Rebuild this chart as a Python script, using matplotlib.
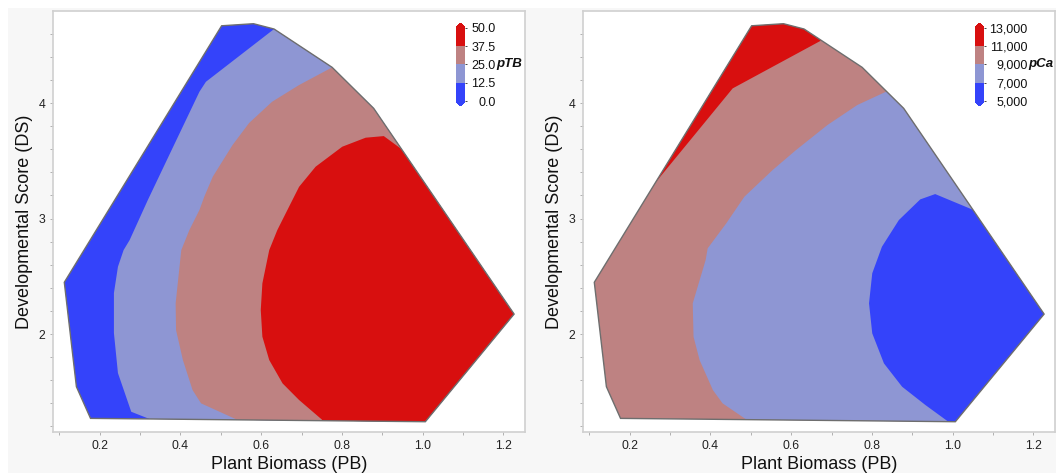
import matplotlib
matplotlib.use('Agg')
import matplotlib.pyplot as plt
from matplotlib.patches import Polygon, Rectangle
from matplotlib.colors import ListedColormap, BoundaryNorm
from matplotlib.cm import ScalarMappable
from matplotlib.ticker import FixedLocator

plt.rcParams['font.family'] = ['Liberation Sans', 'DejaVu Sans']

# convex hull of the sampled points (Plant Biomass, Developmental Score)
hull_pb = [0.112, 0.142, 0.177, 1.007, 1.227, 0.879, 0.776, 0.632, 0.581, 0.502]
hull_ds = [2.448, 1.544, 1.270, 1.241, 2.173, 3.954, 4.309, 4.641, 4.687, 4.669]

# pTB contour lines, from top edge to bottom edge
ptb_levels = [0.0, 12.5, 25.0, 37.5, 50.0]
ptb_12_pb = [0.632, 0.463, 0.447, 0.378, 0.319, 0.274, 0.259, 0.245, 0.235, 0.235, 0.245, 0.278, 0.323]
ptb_12_ds = [4.641, 4.184, 4.098, 3.593, 3.160, 2.814, 2.727, 2.583, 2.355, 2.009, 1.662, 1.327, 1.265]
ptb_25_pb = [0.776, 0.694, 0.627, 0.570, 0.529, 0.480, 0.459, 0.447, 0.422, 0.402, 0.388, 0.389,
             0.406, 0.430, 0.451, 0.538]
ptb_25_ds = [4.309, 4.156, 4.011, 3.827, 3.636, 3.362, 3.189, 3.074, 2.900, 2.727, 2.266, 2.035,
             1.775, 1.515, 1.400, 1.262]
ptb_37_pb = [0.957, 0.904, 0.859, 0.801, 0.735, 0.694, 0.665, 0.640, 0.620, 0.603, 0.599, 0.603,
             0.620, 0.653, 0.694, 0.751]
ptb_37_ds = [3.578, 3.714, 3.700, 3.622, 3.449, 3.275, 3.074, 2.900, 2.727, 2.439, 2.208, 1.977,
             1.775, 1.573, 1.429, 1.258]

# pCa contour lines
pca_levels = [5000, 7000, 9000, 11000, 13000]
pca_11_pb = [0.673, 0.455, 0.262]
pca_11_ds = [4.539, 4.127, 3.305]
pca_9_pb = [0.835, 0.764, 0.690, 0.612, 0.554, 0.484, 0.439, 0.393, 0.388, 0.356, 0.358, 0.373,
            0.406, 0.430, 0.488]
pca_9_ds = [4.098, 3.983, 3.810, 3.593, 3.420, 3.189, 2.958, 2.742, 2.641, 2.266, 1.977, 1.775,
            1.515, 1.400, 1.262]
pca_7_pb = [1.056, 0.957, 0.920, 0.867, 0.825, 0.801, 0.793, 0.801, 0.830, 0.875, 0.933, 0.990]
pca_7_ds = [3.068, 3.212, 3.166, 2.987, 2.756, 2.526, 2.266, 2.006, 1.746, 1.544, 1.385, 1.240]

# band colours, low -> high
band_colors = ['#3443fa', '#8e96d3', '#be8282', '#d80f0f']

W, H = 1056, 473


def band_patch(pb, ds, side, color):
    """Region beyond a contour line, closed outside the hull."""
    pts = list(zip(pb, ds))
    if side == 'right':
        pts += [(pb[-1], 0.0), (5.0, 0.0), (5.0, 9.0), (pb[0], 9.0)]
    else:  # region above the line
        pts += [(pb[-1], 9.0), (pb[0], 9.0)]
    return Polygon(pts, closed=True, facecolor=color, edgecolor='none', zorder=2,
                   joinstyle='round')


def style_axes(ax):
    ax.set_facecolor('white')
    ax.set_xlim(0.084, 1.254)
    ax.set_ylim(1.152, 4.797)
    ax.xaxis.set_major_locator(FixedLocator([0.2, 0.4, 0.6, 0.8, 1.0, 1.2]))
    ax.xaxis.set_minor_locator(FixedLocator([0.1, 0.3, 0.5, 0.7, 0.9, 1.1]))
    ax.yaxis.set_major_locator(FixedLocator([2, 3, 4]))
    ax.yaxis.set_minor_locator(FixedLocator([1.2, 1.4, 1.6, 1.8, 2.2, 2.4, 2.6, 2.8,
                                             3.2, 3.4, 3.6, 3.8, 4.2, 4.4, 4.6]))
    ax.tick_params(which='both', length=2.5, width=0.7, color='#b0b0b0',
                   labelsize=8.8, labelcolor='#222222', pad=3)
    for sp in ax.spines.values():
        sp.set_color('#d0d0d0')
        sp.set_linewidth(1.2)
    ax.set_xlabel('Plant Biomass (PB)', fontsize=13, color='#111111', labelpad=3)
    ax.set_ylabel('Developmental Score (DS)', fontsize=13, color='#111111', labelpad=4)


def draw_panel(ax, base_color, bands):
    hull = Polygon(list(zip(hull_pb, hull_ds)), closed=True, facecolor=base_color,
                   edgecolor='none', zorder=1)
    ax.add_patch(hull)
    for pb, ds, side, color in bands:
        p = band_patch(pb, ds, side, color)
        ax.add_patch(p)
        p.set_clip_path(hull)
    ax.add_patch(Polygon(list(zip(hull_pb, hull_ds)), closed=True, fill=False,
                         edgecolor='#6e6e6e', linewidth=1.0, zorder=5))
    style_axes(ax)


def add_colorbar(fig, left_px, levels, labels, name, pad):
    cmap = ListedColormap(band_colors)
    cmap.set_under(band_colors[0])
    cmap.set_over(band_colors[-1])
    norm = BoundaryNorm(levels, cmap.N)
    cax = fig.add_axes([left_px / W, 1 - 106 / H, 9 / W, 83 / H])
    cb = fig.colorbar(ScalarMappable(norm=norm, cmap=cmap), cax=cax, extend='both',
                      extendfrac=0.068, ticks=levels)
    cb.outline.set_visible(False)
    cb.ax.set_yticklabels(labels)
    cb.ax.tick_params(length=1.5, width=0.7, color='#444444', pad=pad,
                      labelsize=9, labelcolor='#111111')
    for t in cb.ax.get_yticklabels():
        t.set_ha('right')
    cb.ax.annotate(name, xy=(1, 0.5), xycoords='axes fraction', xytext=(pad + 2, 0),
                   textcoords='offset points', ha='left', va='center', fontsize=9.5,
                   fontweight='bold', fontstyle='italic', color='#111111')


fig = plt.figure(figsize=(W / 100, H / 100), dpi=100, facecolor='white')
fig.patches.append(Rectangle((8 / W, 0), 1, 1 - 8 / H, transform=fig.transFigure,
                             facecolor='#f7f7f7', edgecolor='none', zorder=-10))

ax1 = fig.add_axes([53 / W, 1 - 432 / H, 472 / W, 421 / H])
ax2 = fig.add_axes([583 / W, 1 - 432 / H, 472 / W, 421 / H])

draw_panel(ax1, band_colors[0], [
    (ptb_12_pb, ptb_12_ds, 'right', band_colors[1]),
    (ptb_25_pb, ptb_25_ds, 'right', band_colors[2]),
    (ptb_37_pb, ptb_37_ds, 'right', band_colors[3]),
])
draw_panel(ax2, band_colors[2], [
    (pca_11_pb, pca_11_ds, 'up', band_colors[3]),
    (pca_9_pb, pca_9_ds, 'right', band_colors[1]),
    (pca_7_pb, pca_7_ds, 'right', band_colors[0]),
])

add_colorbar(fig, 456, ptb_levels, ['%.1f' % v for v in ptb_levels], 'pTB', 20.5)
add_colorbar(fig, 975, pca_levels, ['{:,}'.format(v) for v in pca_levels], 'pCa', 30)

fig.savefig('out.png', dpi=100, facecolor=fig.get_facecolor())
